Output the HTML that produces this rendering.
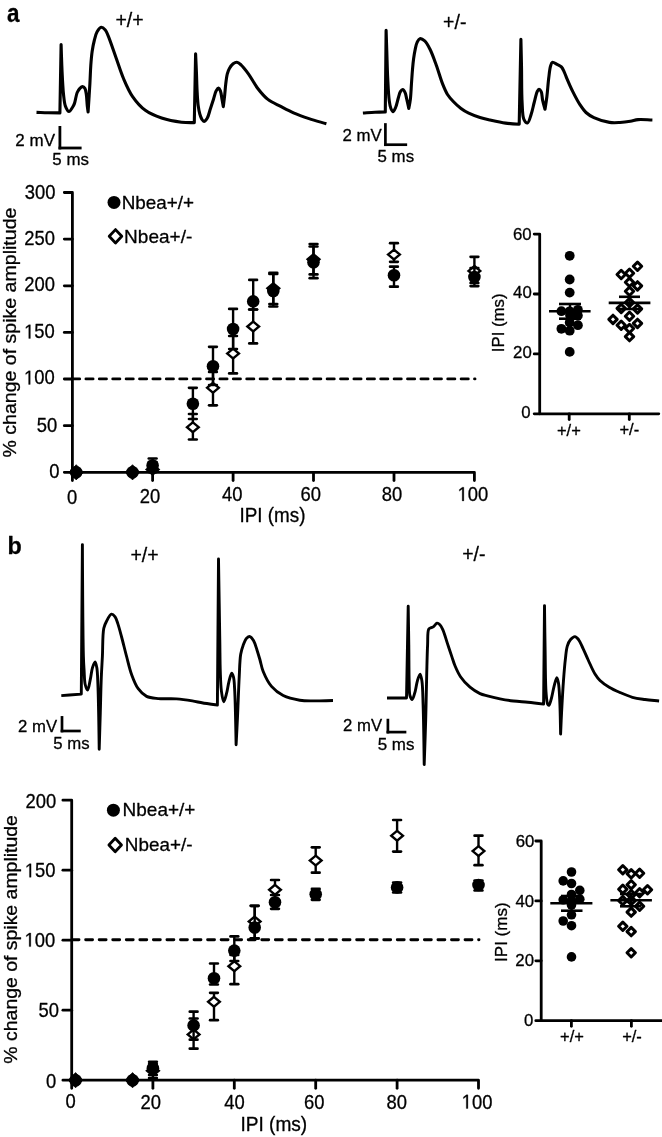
<!DOCTYPE html>
<html><head><meta charset="utf-8"><title>Figure</title>
<style>
html,body{margin:0;padding:0;background:#fff;}
body{width:662px;height:1137px;overflow:hidden;}
svg{display:block;will-change:transform;}
svg text{font-family:"Liberation Sans", sans-serif;fill:#000;stroke:#000;stroke-width:0.3px;stroke-linejoin:round;}
</style></head>
<body>
<svg width="662" height="1137" viewBox="0 0 662 1137" stroke="#000" stroke-linecap="butt" stroke-linejoin="round">
<g>
<text stroke="none" font-size="25.5" font-weight="bold" transform="translate(6.9 22) scale(0.88 1)">a</text>
<text stroke="none" font-size="24.3" font-weight="bold" transform="translate(7.4 553.6) scale(0.96 1)">b</text>
<path d="M36.50 112.40 C40.33 112.53 44.13 112.72 48.00 112.80 C51.93 112.88 59.90 112.90 59.90 112.90 C59.90 112.90 61.10 44.50 61.10 44.50 C61.10 44.50 61.52 58.61 61.80 65.30 C62.06 71.54 62.36 78.01 62.70 83.40 C62.97 87.75 63.14 91.35 63.60 95.20 C64.05 98.92 64.25 103.19 65.40 106.10 C66.28 108.33 67.75 111.44 69.00 111.50 C70.19 111.56 71.75 108.47 72.70 107.00 C73.49 105.78 73.92 104.97 74.50 103.40 C75.46 100.79 76.02 95.19 77.20 92.50 C77.98 90.72 78.89 89.42 79.90 88.40 C80.72 87.57 81.75 86.57 82.60 86.60 C83.41 86.63 84.31 87.49 84.90 88.40 C85.74 89.72 85.93 91.98 86.30 94.30 C86.82 97.54 86.94 102.85 87.30 106.10 C87.55 108.41 88.10 112.00 88.10 112.00 C88.10 112.00 89.42 91.85 89.90 83.40 C90.28 76.68 90.39 70.90 90.80 65.30 C91.15 60.44 91.47 56.05 92.10 51.70 C92.69 47.64 93.48 43.53 94.40 40.00 C95.19 37.00 95.80 34.02 97.10 31.80 C98.19 29.94 99.75 27.48 101.20 27.30 C102.50 27.14 104.20 28.76 105.30 30.00 C106.52 31.38 106.94 32.93 108.00 35.40 C110.13 40.38 113.63 51.08 116.30 58.50 C118.78 65.41 120.74 72.08 123.50 78.50 C126.19 84.77 128.87 91.22 132.60 96.60 C136.19 101.77 140.41 106.72 145.30 110.30 C150.10 113.82 155.77 116.04 161.60 118.00 C167.79 120.08 175.57 121.49 181.50 122.20 C186.21 122.77 194.30 122.60 194.30 122.60 C194.30 122.60 195.60 53.70 195.60 53.70 C195.60 53.70 196.14 65.45 196.40 71.70 C196.68 78.48 196.84 86.74 197.20 92.90 C197.48 97.68 197.69 101.82 198.20 105.60 C198.62 108.70 199.09 111.55 199.80 114.00 C200.38 116.00 201.04 118.00 201.90 119.30 C202.52 120.24 203.23 121.40 204.00 121.40 C204.95 121.40 206.27 119.69 207.20 118.20 C208.58 115.98 209.35 111.87 210.40 108.70 C211.45 105.54 212.51 102.27 213.50 99.20 C214.43 96.31 215.09 92.75 216.20 90.80 C216.91 89.55 217.89 88.05 218.60 88.10 C219.28 88.15 219.90 89.59 220.40 90.80 C221.21 92.77 221.50 96.49 222.00 99.20 C222.47 101.74 223.30 106.60 223.30 106.60 C223.30 106.60 224.29 98.78 224.70 95.00 C225.09 91.39 225.27 87.93 225.70 84.40 C226.13 80.86 226.52 76.69 227.30 73.80 C227.87 71.69 228.45 70.15 229.40 68.50 C230.37 66.81 231.72 64.86 233.10 63.80 C234.23 62.93 235.55 62.11 236.80 62.20 C238.18 62.30 239.52 63.50 241.00 64.80 C243.27 66.79 245.90 70.36 248.40 73.80 C251.42 77.96 254.24 83.83 257.60 88.20 C260.77 92.32 264.00 96.35 267.90 99.40 C271.72 102.39 276.41 104.16 280.70 106.40 C284.95 108.62 288.97 110.83 293.50 112.80 C298.37 114.92 303.65 116.80 309.00 118.60 C314.60 120.48 320.60 122.07 326.40 123.80" fill="none" stroke-width="3.1"/>
<path d="M362.90 113.00 C366.93 112.73 371.13 112.38 375.00 112.20 C378.57 112.03 385.30 111.90 385.30 111.90 C385.30 111.90 386.10 30.40 386.10 30.40 C386.10 30.40 386.55 43.99 386.80 51.40 C387.08 59.72 387.26 69.36 387.70 77.90 C388.11 85.89 388.51 95.54 389.30 101.10 C389.75 104.27 390.10 106.60 390.90 108.50 C391.47 109.85 392.27 111.71 393.00 111.70 C393.83 111.69 394.83 109.25 395.60 107.50 C396.69 105.03 397.43 100.85 398.30 98.00 C399.02 95.65 399.45 93.08 400.40 91.60 C401.05 90.60 401.96 89.43 402.70 89.50 C403.54 89.58 404.47 91.38 405.10 92.70 C405.91 94.39 406.15 96.68 406.70 99.00 C407.37 101.84 408.80 108.50 408.80 108.50 C408.80 108.50 409.98 102.58 410.40 99.00 C410.94 94.41 411.14 88.29 411.50 83.20 C411.84 78.44 412.12 73.69 412.50 69.40 C412.83 65.63 413.13 62.23 413.60 58.80 C414.04 55.54 414.53 52.25 415.20 49.30 C415.79 46.66 416.32 43.78 417.30 41.90 C418.02 40.52 418.78 38.96 419.90 38.70 C421.17 38.40 423.23 39.62 424.70 40.90 C426.71 42.66 428.31 45.96 430.00 49.30 C432.22 53.68 434.26 59.64 436.30 65.20 C438.51 71.22 440.57 78.88 442.70 84.20 C444.30 88.21 445.60 91.50 447.50 94.50 C449.20 97.18 451.14 99.24 453.30 101.50 C455.61 103.92 458.33 106.50 461.00 108.50 C463.48 110.36 465.81 111.79 468.70 113.20 C472.04 114.84 476.31 116.34 480.00 117.50 C483.40 118.57 486.29 119.17 490.00 120.00 C494.61 121.03 500.56 122.40 505.60 123.10 C510.27 123.75 519.20 124.20 519.20 124.20 C519.20 124.20 520.90 39.40 520.90 39.40 C520.90 39.40 521.31 56.67 521.50 66.30 C521.72 77.47 521.50 92.71 522.10 102.50 C522.51 109.20 522.27 115.99 523.90 119.40 C524.79 121.27 526.43 123.21 527.50 123.00 C528.93 122.72 530.05 117.70 531.10 114.60 C532.33 110.98 533.16 106.42 534.20 102.50 C535.19 98.77 536.09 93.86 537.20 91.60 C537.77 90.44 538.35 89.23 539.00 89.20 C539.68 89.17 540.64 90.44 541.20 91.60 C542.12 93.48 541.99 97.23 542.60 100.10 C543.24 103.10 545.00 109.20 545.00 109.20 C545.00 109.20 546.33 101.12 546.90 96.50 C547.58 90.99 548.02 83.73 548.70 78.30 C549.25 73.88 549.64 69.16 550.50 66.30 C551.01 64.60 551.29 62.79 552.30 62.40 C553.41 61.97 555.57 63.64 557.10 64.40 C558.60 65.14 560.22 65.70 561.40 66.90 C562.71 68.24 563.51 70.42 564.40 72.30 C565.31 74.22 565.79 75.92 566.80 78.30 C568.32 81.88 570.61 87.21 572.80 91.60 C575.03 96.08 577.65 101.16 580.10 104.90 C582.05 107.88 583.68 110.38 586.00 112.50 C588.29 114.60 590.70 116.11 593.90 117.60 C598.12 119.56 604.76 121.66 609.50 122.40 C613.30 122.99 616.52 122.69 620.00 122.50 C623.46 122.32 627.12 121.83 630.30 121.30 C633.09 120.83 635.09 119.88 638.10 119.60 C642.13 119.22 647.63 119.87 652.40 120.00" fill="none" stroke-width="3.1"/>
<line x1="59.9" y1="127.4" x2="59.9" y2="148.0" stroke-width="2.8" stroke-linecap="square"/>
<line x1="59.9" y1="148.0" x2="80.2" y2="148.0" stroke-width="2.8" stroke-linecap="square"/>
<line x1="385.4" y1="124.5" x2="385.4" y2="144.7" stroke-width="2.7" stroke-linecap="square"/>
<line x1="385.4" y1="144.7" x2="405.8" y2="144.7" stroke-width="2.7" stroke-linecap="square"/>
<text id="a_2mv_l" x="54.99" y="145.90" font-size="16.50" text-anchor="end" font-weight="normal" textLength="39.6" lengthAdjust="spacingAndGlyphs">2 mV</text>
<text id="a_5ms_l" x="70.65" y="165.40" font-size="16.50" text-anchor="middle" font-weight="normal" textLength="36.6" lengthAdjust="spacingAndGlyphs">5 ms</text>
<text id="a_2mv_r" x="381.86" y="140.70" font-size="16.50" text-anchor="end" font-weight="normal" textLength="39.3" lengthAdjust="spacingAndGlyphs">2 mV</text>
<text id="a_5ms_r" x="395.83" y="161.80" font-size="16.50" text-anchor="middle" font-weight="normal" textLength="36.5" lengthAdjust="spacingAndGlyphs">5 ms</text>
<text id="a_pp" x="129.59" y="27.30" font-size="19.50" text-anchor="middle" font-weight="normal">+/+</text>
<text id="a_pm" x="454.74" y="28.70" font-size="19.50" text-anchor="middle" font-weight="normal">+/-</text>
<path d="M64.3 192.49 L72.4 192.49 L72.4 480.6" fill="none" stroke-width="2.8" stroke-linecap="round"/>
<path d="M64.3 472.3 L474.40 472.3 L474.40 480.6" fill="none" stroke-width="2.8" stroke-linecap="round"/>
<text id="a_y0" x="0" y="0" font-size="19.80" text-anchor="end" font-weight="normal" transform="translate(59.50 477.90) scale(0.930 1)">0</text>
<line x1="64.3" y1="425.7" x2="72.4" y2="425.7" stroke-width="2.8" stroke-linecap="round"/>
<text id="a_y50" x="0" y="0" font-size="19.80" text-anchor="end" font-weight="normal" transform="translate(57.27 432.26) scale(0.930 1)">50</text>
<line x1="64.3" y1="379.0" x2="72.4" y2="379.0" stroke-width="2.8" stroke-linecap="round"/>
<g id="a_y100" transform="translate(54.69 384.38) scale(0.930 1)"><text x="0" y="0" font-size="19.80" text-anchor="end" font-weight="normal"> 00</text><path stroke="#000" stroke-width="31.0" fill="#000" transform="translate(-33.035 0) scale(0.00967 0.00967)" d="M515 0L515 -1237L197 -1010L197 -1180L530 -1409L696 -1409L696 0Z"/></g>
<line x1="64.3" y1="332.4" x2="72.4" y2="332.4" stroke-width="2.8" stroke-linecap="round"/>
<g id="a_y150" transform="translate(54.84 338.39) scale(0.930 1)"><text x="0" y="0" font-size="19.80" text-anchor="end" font-weight="normal"> 50</text><path stroke="#000" stroke-width="31.0" fill="#000" transform="translate(-33.035 0) scale(0.00967 0.00967)" d="M515 0L515 -1237L197 -1010L197 -1180L530 -1409L696 -1409L696 0Z"/></g>
<line x1="64.3" y1="285.8" x2="72.4" y2="285.8" stroke-width="2.8" stroke-linecap="round"/>
<text id="a_y200" x="0" y="0" font-size="19.80" text-anchor="end" font-weight="normal" transform="translate(55.06 291.36) scale(0.930 1)">200</text>
<line x1="64.3" y1="239.1" x2="72.4" y2="239.1" stroke-width="2.8" stroke-linecap="round"/>
<text id="a_y250" x="0" y="0" font-size="19.80" text-anchor="end" font-weight="normal" transform="translate(55.03 245.13) scale(0.930 1)">250</text>
<text id="a_y300" x="0" y="0" font-size="19.80" text-anchor="end" font-weight="normal" transform="translate(55.46 198.89) scale(0.930 1)">300</text>
<line x1="152.6" y1="472.3" x2="152.6" y2="480.6" stroke-width="2.8" stroke-linecap="round"/>
<line x1="233.1" y1="472.3" x2="233.1" y2="480.6" stroke-width="2.8" stroke-linecap="round"/>
<line x1="313.5" y1="472.3" x2="313.5" y2="480.6" stroke-width="2.8" stroke-linecap="round"/>
<line x1="394.0" y1="472.3" x2="394.0" y2="480.6" stroke-width="2.8" stroke-linecap="round"/>
<text id="a_x0" x="0" y="0" font-size="19.80" text-anchor="middle" font-weight="normal" transform="translate(72.04 503.50) scale(0.930 1)">0</text>
<text id="a_x20" x="0" y="0" font-size="19.80" text-anchor="middle" font-weight="normal" transform="translate(150.02 502.70) scale(0.930 1)">20</text>
<text id="a_x40" x="0" y="0" font-size="19.80" text-anchor="middle" font-weight="normal" transform="translate(232.30 501.30) scale(0.930 1)">40</text>
<text id="a_x60" x="0" y="0" font-size="19.80" text-anchor="middle" font-weight="normal" transform="translate(310.73 501.10) scale(0.930 1)">60</text>
<text id="a_x80" x="0" y="0" font-size="19.80" text-anchor="middle" font-weight="normal" transform="translate(392.03 501.10) scale(0.930 1)">80</text>
<g id="a_x100" transform="translate(472.94 500.93) scale(0.930 1)"><text x="0" y="0" font-size="19.80" text-anchor="middle" font-weight="normal"> 00</text><path stroke="#000" stroke-width="31.0" fill="#000" transform="translate(-16.518 0) scale(0.00967 0.00967)" d="M515 0L515 -1237L197 -1010L197 -1180L530 -1409L696 -1409L696 0Z"/></g>
<text id="a_ipi" x="272.52" y="521.60" font-size="19.50" text-anchor="middle" font-weight="normal" textLength="65.9" lengthAdjust="spacingAndGlyphs">IPI (ms)</text>
<text x="15.60" y="332.60" font-size="18.20" text-anchor="middle" font-weight="normal" textLength="250.0" lengthAdjust="spacingAndGlyphs" transform="rotate(-90 15.60 332.60)">% change of spike amplitude</text>
<line x1="72.55" y1="378.9" x2="475.0" y2="378.9" stroke-width="2.9" stroke-linecap="round" stroke-dasharray="7.1 6.3"/>
<circle cx="114.0" cy="202.4" r="6.5" fill="#000" stroke="none"/>
<text id="a_leg1" x="121.69" y="208.50" font-size="19.00" text-anchor="start" font-weight="normal" textLength="72.4" lengthAdjust="spacingAndGlyphs">Nbea+/+</text>
<path d="M115.50 229.60L121.80 236.30L115.50 243.00L109.20 236.30Z" fill="#fff" stroke-width="2.80" stroke-linejoin="round"/>
<text id="a_leg2" x="124.07" y="242.80" font-size="19.00" text-anchor="start" font-weight="normal" textLength="68.2" lengthAdjust="spacingAndGlyphs">Nbea+/-</text>
<line x1="192.9" y1="414.0" x2="192.9" y2="439.5" stroke-width="2.4"/>
<line x1="189.0" y1="414.0" x2="196.7" y2="414.0" stroke-width="2.7" stroke-linecap="round"/>
<line x1="189.0" y1="439.5" x2="196.7" y2="439.5" stroke-width="2.7" stroke-linecap="round"/>
<line x1="213.0" y1="372.0" x2="213.0" y2="405.3" stroke-width="2.4"/>
<line x1="209.1" y1="372.0" x2="216.8" y2="372.0" stroke-width="2.7" stroke-linecap="round"/>
<line x1="209.1" y1="405.3" x2="216.8" y2="405.3" stroke-width="2.7" stroke-linecap="round"/>
<line x1="233.1" y1="336.0" x2="233.1" y2="373.4" stroke-width="2.4"/>
<line x1="229.2" y1="336.0" x2="236.9" y2="336.0" stroke-width="2.7" stroke-linecap="round"/>
<line x1="229.2" y1="373.4" x2="236.9" y2="373.4" stroke-width="2.7" stroke-linecap="round"/>
<line x1="253.2" y1="309.5" x2="253.2" y2="343.4" stroke-width="2.4"/>
<line x1="249.3" y1="309.5" x2="257.0" y2="309.5" stroke-width="2.7" stroke-linecap="round"/>
<line x1="249.3" y1="343.4" x2="257.0" y2="343.4" stroke-width="2.7" stroke-linecap="round"/>
<line x1="273.3" y1="274.0" x2="273.3" y2="306.5" stroke-width="2.4"/>
<line x1="269.4" y1="274.0" x2="277.2" y2="274.0" stroke-width="2.7" stroke-linecap="round"/>
<line x1="269.4" y1="306.5" x2="277.2" y2="306.5" stroke-width="2.7" stroke-linecap="round"/>
<line x1="313.5" y1="246.5" x2="313.5" y2="274.4" stroke-width="2.4"/>
<line x1="309.7" y1="246.5" x2="317.4" y2="246.5" stroke-width="2.7" stroke-linecap="round"/>
<line x1="309.7" y1="274.4" x2="317.4" y2="274.4" stroke-width="2.7" stroke-linecap="round"/>
<line x1="394.0" y1="243.2" x2="394.0" y2="261.8" stroke-width="2.4"/>
<line x1="390.1" y1="243.2" x2="397.8" y2="243.2" stroke-width="2.7" stroke-linecap="round"/>
<line x1="390.1" y1="261.8" x2="397.8" y2="261.8" stroke-width="2.7" stroke-linecap="round"/>
<line x1="474.4" y1="256.8" x2="474.4" y2="283.0" stroke-width="2.4"/>
<line x1="470.6" y1="256.8" x2="478.3" y2="256.8" stroke-width="2.7" stroke-linecap="round"/>
<line x1="470.6" y1="283.0" x2="478.3" y2="283.0" stroke-width="2.7" stroke-linecap="round"/>
<line x1="152.6" y1="462.0" x2="152.6" y2="472.0" stroke-width="2.4"/>
<line x1="148.8" y1="462.0" x2="156.5" y2="462.0" stroke-width="2.7" stroke-linecap="round"/>
<line x1="148.8" y1="472.0" x2="156.5" y2="472.0" stroke-width="2.7" stroke-linecap="round"/>
<path d="M76.22 467.40L82.07 472.30L76.22 477.20L70.37 472.30Z" fill="#fff" stroke-width="2.40" stroke-linejoin="miter"/>
<path d="M132.53 467.40L138.38 472.30L132.53 477.20L126.68 472.30Z" fill="#fff" stroke-width="2.40" stroke-linejoin="miter"/>
<path d="M152.64 464.60L158.49 469.50L152.64 474.40L146.79 469.50Z" fill="#fff" stroke-width="2.40" stroke-linejoin="miter"/>
<path d="M192.86 422.30L198.71 427.20L192.86 432.10L187.01 427.20Z" fill="#fff" stroke-width="2.40" stroke-linejoin="miter"/>
<path d="M212.97 382.90L218.82 387.80L212.97 392.70L207.12 387.80Z" fill="#fff" stroke-width="2.40" stroke-linejoin="miter"/>
<path d="M233.08 348.70L238.93 353.60L233.08 358.50L227.23 353.60Z" fill="#fff" stroke-width="2.40" stroke-linejoin="miter"/>
<path d="M253.19 321.60L259.04 326.50L253.19 331.40L247.34 326.50Z" fill="#fff" stroke-width="2.40" stroke-linejoin="miter"/>
<path d="M273.30 283.40L279.15 288.30L273.30 293.20L267.45 288.30Z" fill="#fff" stroke-width="2.40" stroke-linejoin="miter"/>
<path d="M313.52 254.30L319.37 259.20L313.52 264.10L307.67 259.20Z" fill="#fff" stroke-width="2.40" stroke-linejoin="miter"/>
<path d="M393.96 249.70L399.81 254.60L393.96 259.50L388.11 254.60Z" fill="#fff" stroke-width="2.40" stroke-linejoin="miter"/>
<path d="M474.40 266.00L480.25 270.90L474.40 275.80L468.55 270.90Z" fill="#fff" stroke-width="2.40" stroke-linejoin="miter"/>
<line x1="192.9" y1="387.8" x2="192.9" y2="419.0" stroke-width="2.4"/>
<line x1="189.0" y1="387.8" x2="196.7" y2="387.8" stroke-width="2.7" stroke-linecap="round"/>
<line x1="189.0" y1="419.0" x2="196.7" y2="419.0" stroke-width="2.7" stroke-linecap="round"/>
<line x1="213.0" y1="346.8" x2="213.0" y2="385.0" stroke-width="2.4"/>
<line x1="209.1" y1="346.8" x2="216.8" y2="346.8" stroke-width="2.7" stroke-linecap="round"/>
<line x1="209.1" y1="385.0" x2="216.8" y2="385.0" stroke-width="2.7" stroke-linecap="round"/>
<line x1="233.1" y1="308.9" x2="233.1" y2="349.0" stroke-width="2.4"/>
<line x1="229.2" y1="308.9" x2="236.9" y2="308.9" stroke-width="2.7" stroke-linecap="round"/>
<line x1="229.2" y1="349.0" x2="236.9" y2="349.0" stroke-width="2.7" stroke-linecap="round"/>
<line x1="253.2" y1="279.9" x2="253.2" y2="309.5" stroke-width="2.4"/>
<line x1="249.3" y1="279.9" x2="257.0" y2="279.9" stroke-width="2.7" stroke-linecap="round"/>
<line x1="249.3" y1="309.5" x2="257.0" y2="309.5" stroke-width="2.7" stroke-linecap="round"/>
<line x1="273.3" y1="272.8" x2="273.3" y2="304.0" stroke-width="2.4"/>
<line x1="269.4" y1="272.8" x2="277.2" y2="272.8" stroke-width="2.7" stroke-linecap="round"/>
<line x1="269.4" y1="304.0" x2="277.2" y2="304.0" stroke-width="2.7" stroke-linecap="round"/>
<line x1="313.5" y1="244.0" x2="313.5" y2="278.2" stroke-width="2.4"/>
<line x1="309.7" y1="244.0" x2="317.4" y2="244.0" stroke-width="2.7" stroke-linecap="round"/>
<line x1="309.7" y1="278.2" x2="317.4" y2="278.2" stroke-width="2.7" stroke-linecap="round"/>
<line x1="394.0" y1="266.7" x2="394.0" y2="286.7" stroke-width="2.4"/>
<line x1="390.1" y1="266.7" x2="397.8" y2="266.7" stroke-width="2.7" stroke-linecap="round"/>
<line x1="390.1" y1="286.7" x2="397.8" y2="286.7" stroke-width="2.7" stroke-linecap="round"/>
<line x1="474.4" y1="268.0" x2="474.4" y2="286.1" stroke-width="2.4"/>
<line x1="470.6" y1="268.0" x2="478.3" y2="268.0" stroke-width="2.7" stroke-linecap="round"/>
<line x1="470.6" y1="286.1" x2="478.3" y2="286.1" stroke-width="2.7" stroke-linecap="round"/>
<line x1="152.6" y1="458.5" x2="152.6" y2="472.0" stroke-width="2.4"/>
<line x1="148.8" y1="458.5" x2="156.5" y2="458.5" stroke-width="2.7" stroke-linecap="round"/>
<line x1="148.8" y1="472.0" x2="156.5" y2="472.0" stroke-width="2.7" stroke-linecap="round"/>
<path d="M76.22 464.70L83.32 472.30L76.22 479.90L69.12 472.30Z" fill="#000" stroke-width="0.80" stroke-linejoin="miter"/>
<path d="M132.53 464.70L139.63 472.30L132.53 479.90L125.43 472.30Z" fill="#000" stroke-width="0.80" stroke-linejoin="miter"/>
<circle cx="76.2" cy="472.3" r="6.3" fill="#000" stroke="none"/>
<circle cx="132.5" cy="472.3" r="6.3" fill="#000" stroke="none"/>
<circle cx="152.6" cy="465.5" r="6.3" fill="#000" stroke="none"/>
<circle cx="192.9" cy="403.7" r="6.3" fill="#000" stroke="none"/>
<circle cx="213.0" cy="366.2" r="6.3" fill="#000" stroke="none"/>
<circle cx="233.1" cy="329.0" r="6.3" fill="#000" stroke="none"/>
<circle cx="253.2" cy="301.4" r="6.3" fill="#000" stroke="none"/>
<circle cx="273.3" cy="291.0" r="6.3" fill="#000" stroke="none"/>
<circle cx="313.5" cy="262.2" r="6.3" fill="#000" stroke="none"/>
<circle cx="394.0" cy="275.2" r="6.3" fill="#000" stroke="none"/>
<circle cx="474.4" cy="277.0" r="6.3" fill="#000" stroke="none"/>
<path d="M534.2 234.10 L539.7 234.10 L539.7 413.8" fill="none" stroke-width="2.8" stroke-linecap="round"/>
<line x1="534.2" y1="413.8" x2="658.8" y2="413.8" stroke-width="2.8" stroke-linecap="round"/>
<line x1="534.2" y1="353.9" x2="539.7" y2="353.9" stroke-width="2.8" stroke-linecap="round"/>
<line x1="534.2" y1="294.0" x2="539.7" y2="294.0" stroke-width="2.8" stroke-linecap="round"/>
<text id="ia_y0" x="530.48" y="418.20" font-size="16.80" text-anchor="end" font-weight="normal">0</text>
<text id="ia_y20" x="531.72" y="357.90" font-size="16.80" text-anchor="end" font-weight="normal">20</text>
<text id="ia_y40" x="531.74" y="298.40" font-size="16.80" text-anchor="end" font-weight="normal">40</text>
<text id="ia_y60" x="531.60" y="239.50" font-size="16.80" text-anchor="end" font-weight="normal">60</text>
<line x1="569.2" y1="413.8" x2="569.2" y2="419.6" stroke-width="2.8" stroke-linecap="round"/>
<line x1="629.3" y1="413.8" x2="629.3" y2="419.6" stroke-width="2.8" stroke-linecap="round"/>
<text id="ia_pp" x="568.84" y="435.80" font-size="16.50" text-anchor="middle" font-weight="normal">+/+</text>
<text id="ia_pm" x="629.31" y="435.00" font-size="16.50" text-anchor="middle" font-weight="normal">+/-</text>
<text id="ia_ipi" x="504.20" y="322.78" font-size="16.80" text-anchor="middle" font-weight="normal" textLength="58.8" lengthAdjust="spacingAndGlyphs" transform="rotate(-90 504.20 322.78)">IPI (ms)</text>
<circle cx="569.7" cy="255.8" r="4.9" fill="#000" stroke="none"/>
<circle cx="569.7" cy="279.5" r="4.9" fill="#000" stroke="none"/>
<circle cx="569.7" cy="292.6" r="4.9" fill="#000" stroke="none"/>
<circle cx="561.4" cy="311.2" r="4.9" fill="#000" stroke="none"/>
<circle cx="569.7" cy="311.3" r="4.9" fill="#000" stroke="none"/>
<circle cx="577.9" cy="309.8" r="4.9" fill="#000" stroke="none"/>
<circle cx="577.9" cy="315.6" r="4.9" fill="#000" stroke="none"/>
<circle cx="569.7" cy="322.5" r="4.9" fill="#000" stroke="none"/>
<circle cx="577.9" cy="325.2" r="4.9" fill="#000" stroke="none"/>
<circle cx="561.4" cy="328.8" r="4.9" fill="#000" stroke="none"/>
<circle cx="569.7" cy="330.7" r="4.9" fill="#000" stroke="none"/>
<circle cx="569.7" cy="351.9" r="4.9" fill="#000" stroke="none"/>
<circle cx="570.0" cy="315.0" r="4.9" fill="#000" stroke="none"/>
<line x1="549.0" y1="311.2" x2="590.6" y2="311.2" stroke-width="2.6"/>
<line x1="559.0" y1="304.0" x2="581.0" y2="304.0" stroke-width="2.6"/>
<line x1="570.0" y1="304.0" x2="570.0" y2="318.7" stroke-width="2.4"/>
<line x1="559.0" y1="318.7" x2="581.0" y2="318.7" stroke-width="2.6"/>
<path d="M637.50 262.10L641.70 266.30L637.50 270.50L633.30 266.30Z" fill="#fff" stroke-width="3.00" stroke-linejoin="round"/>
<path d="M621.20 270.30L625.40 274.50L621.20 278.70L617.00 274.50Z" fill="#fff" stroke-width="3.00" stroke-linejoin="round"/>
<path d="M629.50 269.00L633.70 273.20L629.50 277.40L625.30 273.20Z" fill="#fff" stroke-width="3.00" stroke-linejoin="round"/>
<path d="M629.50 278.10L633.70 282.30L629.50 286.50L625.30 282.30Z" fill="#fff" stroke-width="3.00" stroke-linejoin="round"/>
<path d="M637.50 281.70L641.70 285.90L637.50 290.10L633.30 285.90Z" fill="#fff" stroke-width="3.00" stroke-linejoin="round"/>
<path d="M629.50 287.10L633.70 291.30L629.50 295.50L625.30 291.30Z" fill="#fff" stroke-width="3.00" stroke-linejoin="round"/>
<path d="M621.20 304.20L625.40 308.40L621.20 312.60L617.00 308.40Z" fill="#fff" stroke-width="3.00" stroke-linejoin="round"/>
<path d="M637.50 304.70L641.70 308.90L637.50 313.10L633.30 308.90Z" fill="#fff" stroke-width="3.00" stroke-linejoin="round"/>
<path d="M629.50 298.30L633.70 302.50L629.50 306.70L625.30 302.50Z" fill="#fff" stroke-width="3.00" stroke-linejoin="round"/>
<path d="M629.50 312.00L633.70 316.20L629.50 320.40L625.30 316.20Z" fill="#fff" stroke-width="3.00" stroke-linejoin="round"/>
<path d="M613.00 315.20L617.20 319.40L613.00 323.60L608.80 319.40Z" fill="#fff" stroke-width="3.00" stroke-linejoin="round"/>
<path d="M621.20 321.00L625.40 325.20L621.20 329.40L617.00 325.20Z" fill="#fff" stroke-width="3.00" stroke-linejoin="round"/>
<path d="M637.50 319.20L641.70 323.40L637.50 327.60L633.30 323.40Z" fill="#fff" stroke-width="3.00" stroke-linejoin="round"/>
<path d="M629.50 324.30L633.70 328.50L629.50 332.70L625.30 328.50Z" fill="#fff" stroke-width="3.00" stroke-linejoin="round"/>
<path d="M629.50 332.40L633.70 336.60L629.50 340.80L625.30 336.60Z" fill="#fff" stroke-width="3.00" stroke-linejoin="round"/>
<line x1="608.7" y1="302.9" x2="650.4" y2="302.9" stroke-width="2.6"/>
<line x1="619.0" y1="296.8" x2="640.0" y2="296.8" stroke-width="2.6"/>
<line x1="629.5" y1="296.8" x2="629.5" y2="309.0" stroke-width="2.4"/>
<line x1="619.0" y1="309.0" x2="640.0" y2="309.0" stroke-width="2.6"/>
<path d="M61.30 695.60 C67.97 695.10 81.30 694.10 81.30 694.10 C81.30 694.10 82.40 544.60 82.40 544.60 C82.40 544.60 82.83 636.78 83.40 656.30 C83.60 663.24 83.80 665.70 84.10 670.40 C84.40 675.10 84.32 680.92 85.20 684.50 C85.78 686.85 86.85 690.16 87.60 690.10 C88.63 690.02 89.58 682.65 90.40 678.90 C91.22 675.15 91.52 670.66 92.50 667.60 C93.22 665.36 94.38 661.95 95.10 662.00 C95.80 662.05 96.36 665.20 96.80 667.60 C97.54 671.69 97.58 677.04 97.90 684.50 C98.52 699.10 99.20 749.30 99.20 749.30 C99.20 749.30 99.95 724.78 100.30 712.70 C100.65 700.85 100.89 687.75 101.30 677.50 C101.62 669.54 102.02 663.86 102.40 656.30 C102.84 647.59 102.46 634.40 103.80 628.20 C104.50 624.97 105.37 623.39 106.60 621.10 C107.90 618.68 109.86 614.35 111.50 614.10 C112.70 613.92 114.11 615.58 115.10 616.90 C116.38 618.60 116.97 621.18 117.90 623.90 C119.15 627.56 120.30 632.19 121.60 637.00 C123.18 642.85 124.90 650.14 126.60 656.50 C128.24 662.63 129.55 668.93 131.60 674.50 C133.48 679.60 135.42 684.90 138.20 688.70 C140.57 691.94 143.31 694.75 146.60 696.40 C149.95 698.08 153.87 698.16 158.20 698.60 C163.59 699.15 170.63 698.48 176.50 698.90 C181.97 699.29 187.56 700.14 192.30 700.90 C196.22 701.53 199.16 702.36 203.00 703.00 C207.43 703.74 217.40 705.00 217.40 705.00 C217.40 705.00 218.50 559.00 218.50 559.00 C218.50 559.00 219.47 619.26 219.80 640.00 C220.01 652.93 219.97 662.27 220.30 671.50 C220.56 678.75 220.67 685.38 221.40 690.90 C221.96 695.08 222.77 701.75 223.70 701.80 C224.54 701.85 225.77 696.30 226.60 693.20 C227.54 689.69 227.98 685.31 228.90 681.80 C229.71 678.71 230.81 673.25 231.70 673.20 C232.32 673.17 233.04 675.48 233.50 677.20 C234.24 679.98 234.28 683.35 234.60 688.60 C235.31 700.21 236.10 744.70 236.10 744.70 C236.10 744.70 237.03 727.30 237.50 717.30 C238.07 705.20 238.58 688.70 239.20 677.20 C239.67 668.50 239.71 660.16 240.70 654.30 C241.33 650.54 242.14 647.98 243.20 645.20 C244.15 642.69 245.19 639.72 246.60 638.30 C247.59 637.30 248.93 636.39 250.00 636.60 C251.26 636.85 252.47 638.88 253.50 640.60 C254.89 642.93 255.84 646.55 256.90 649.70 C258.01 653.01 258.98 656.47 260.00 660.00 C261.08 663.72 261.56 667.52 263.20 671.50 C265.15 676.26 268.00 682.32 271.50 686.40 C274.76 690.20 278.71 693.23 283.20 695.50 C288.05 697.95 294.53 699.33 299.80 700.20 C304.43 700.97 308.22 700.82 313.10 700.90 C319.07 701.00 326.37 700.63 333.00 700.50" fill="none" stroke-width="2.9"/>
<path d="M387.00 698.00 C393.50 698.00 406.50 698.00 406.50 698.00 C406.50 698.00 408.20 606.30 408.20 606.30 C408.20 606.30 408.63 632.13 408.80 644.90 C408.96 657.46 408.87 672.95 409.20 682.30 C409.40 687.93 409.07 692.78 410.00 695.80 C410.52 697.50 411.48 699.57 412.20 699.50 C413.23 699.40 414.36 694.23 415.20 691.30 C416.13 688.05 416.47 683.87 417.40 680.80 C418.17 678.28 419.35 674.05 420.10 674.10 C420.84 674.14 421.43 677.85 421.90 680.80 C422.76 686.28 422.77 694.93 423.10 704.70 C423.63 720.16 424.20 764.60 424.20 764.60 C424.20 764.60 425.28 734.67 425.70 719.70 C426.12 704.73 426.35 688.25 426.70 674.80 C426.99 663.82 427.18 653.27 427.60 644.90 C427.90 638.83 427.33 631.59 428.70 629.20 C429.26 628.22 430.10 628.13 430.90 627.70 C431.73 627.25 432.72 627.20 433.60 626.60 C434.73 625.84 435.75 623.40 436.90 623.20 C437.87 623.04 439.01 623.86 439.90 624.70 C441.09 625.82 441.91 627.70 442.90 629.90 C444.42 633.29 445.90 638.90 447.40 643.40 C448.90 647.90 450.53 652.87 451.90 656.90 C453.02 660.18 453.70 662.73 455.00 665.80 C456.48 669.30 458.13 673.25 460.50 676.70 C463.05 680.41 466.59 684.31 470.00 687.20 C473.13 689.85 476.82 692.12 480.00 693.60 C482.57 694.79 484.59 695.14 487.40 695.90 C491.03 696.88 495.71 697.96 500.00 698.80 C504.41 699.67 508.91 700.42 513.50 701.00 C518.24 701.60 523.08 701.80 528.00 702.30 C533.11 702.82 543.60 704.10 543.60 704.10 C543.60 704.10 544.50 605.60 544.50 605.60 C544.50 605.60 544.84 634.16 545.10 648.60 C545.37 663.26 545.29 682.98 546.10 692.90 C546.51 697.96 546.76 702.62 547.70 704.30 C548.05 704.92 548.50 705.41 548.90 705.30 C549.78 705.06 550.72 700.73 551.50 698.00 C552.46 694.65 553.06 690.15 554.00 686.60 C554.84 683.43 556.00 677.70 556.80 677.70 C557.41 677.70 557.97 680.58 558.40 682.80 C559.16 686.70 559.36 692.78 559.70 699.30 C560.19 708.76 560.60 734.10 560.60 734.10 C560.60 734.10 561.18 719.95 561.60 711.90 C562.11 702.29 562.79 689.82 563.50 680.30 C564.08 672.44 564.66 665.02 565.40 658.80 C565.97 654.00 566.23 649.53 567.30 646.10 C568.09 643.56 569.02 641.42 570.40 639.80 C571.63 638.36 573.48 636.54 574.90 636.60 C576.24 636.65 577.53 638.31 578.70 639.80 C580.35 641.90 581.61 645.46 583.10 648.60 C584.77 652.14 586.34 656.02 588.20 660.00 C590.27 664.44 592.72 670.31 595.00 674.00 C596.66 676.68 597.90 678.46 600.00 680.50 C602.47 682.91 605.92 685.22 609.20 687.20 C612.57 689.24 616.24 690.85 620.00 692.50 C623.95 694.23 628.19 696.13 632.40 697.30 C636.53 698.45 640.67 698.89 645.00 699.50 C649.56 700.14 654.40 700.50 659.10 701.00" fill="none" stroke-width="2.9"/>
<line x1="62.0" y1="717.4" x2="62.0" y2="731.0" stroke-width="2.7" stroke-linecap="square"/>
<line x1="62.0" y1="731.0" x2="79.4" y2="731.0" stroke-width="2.7" stroke-linecap="square"/>
<line x1="387.9" y1="720.1" x2="387.9" y2="732.1" stroke-width="2.7" stroke-linecap="square"/>
<line x1="387.9" y1="732.1" x2="405.0" y2="732.1" stroke-width="2.7" stroke-linecap="square"/>
<text id="b_2mv_l" x="57.05" y="731.60" font-size="16.30" text-anchor="end" font-weight="normal" textLength="39.0" lengthAdjust="spacingAndGlyphs">2 mV</text>
<text id="b_5ms_l" x="71.38" y="749.20" font-size="16.30" text-anchor="middle" font-weight="normal" textLength="36.3" lengthAdjust="spacingAndGlyphs">5 ms</text>
<text id="b_2mv_r" x="382.05" y="731.30" font-size="16.30" text-anchor="end" font-weight="normal" textLength="39.0" lengthAdjust="spacingAndGlyphs">2 mV</text>
<text id="b_5ms_r" x="396.06" y="750.20" font-size="16.30" text-anchor="middle" font-weight="normal" textLength="36.8" lengthAdjust="spacingAndGlyphs">5 ms</text>
<text id="b_pp" x="144.54" y="562.20" font-size="19.50" text-anchor="middle" font-weight="normal">+/+</text>
<text id="b_pm" x="473.82" y="560.80" font-size="19.50" text-anchor="middle" font-weight="normal">+/-</text>
<path d="M62.9 800.20 L71.7 800.20 L71.7 1088.3" fill="none" stroke-width="2.8" stroke-linecap="round"/>
<path d="M62.9 1080.2 L478.50 1080.2 L478.50 1088.3" fill="none" stroke-width="2.8" stroke-linecap="round"/>
<text id="b_y0" x="0" y="0" font-size="19.80" text-anchor="end" font-weight="normal" transform="translate(56.24 1087.80) scale(0.930 1)">0</text>
<line x1="62.9" y1="1010.2" x2="71.7" y2="1010.2" stroke-width="2.8" stroke-linecap="round"/>
<text id="b_y50" x="0" y="0" font-size="19.80" text-anchor="end" font-weight="normal" transform="translate(58.97 1017.20) scale(0.930 1)">50</text>
<line x1="62.9" y1="940.2" x2="71.7" y2="940.2" stroke-width="2.8" stroke-linecap="round"/>
<g id="b_y100" transform="translate(55.27 946.61) scale(0.930 1)"><text x="0" y="0" font-size="19.80" text-anchor="end" font-weight="normal"> 00</text><path stroke="#000" stroke-width="31.0" fill="#000" transform="translate(-33.035 0) scale(0.00967 0.00967)" d="M515 0L515 -1237L197 -1010L197 -1180L530 -1409L696 -1409L696 0Z"/></g>
<line x1="62.9" y1="870.2" x2="71.7" y2="870.2" stroke-width="2.8" stroke-linecap="round"/>
<g id="b_y150" transform="translate(55.55 877.29) scale(0.930 1)"><text x="0" y="0" font-size="19.80" text-anchor="end" font-weight="normal"> 50</text><path stroke="#000" stroke-width="31.0" fill="#000" transform="translate(-33.035 0) scale(0.00967 0.00967)" d="M515 0L515 -1237L197 -1010L197 -1180L530 -1409L696 -1409L696 0Z"/></g>
<text id="b_y200" x="0" y="0" font-size="19.80" text-anchor="end" font-weight="normal" transform="translate(56.13 808.00) scale(0.930 1)">200</text>
<line x1="152.9" y1="1080.2" x2="152.9" y2="1088.3" stroke-width="2.8" stroke-linecap="round"/>
<line x1="234.3" y1="1080.2" x2="234.3" y2="1088.3" stroke-width="2.8" stroke-linecap="round"/>
<line x1="315.7" y1="1080.2" x2="315.7" y2="1088.3" stroke-width="2.8" stroke-linecap="round"/>
<line x1="397.1" y1="1080.2" x2="397.1" y2="1088.3" stroke-width="2.8" stroke-linecap="round"/>
<text id="b_x0" x="0" y="0" font-size="19.80" text-anchor="middle" font-weight="normal" transform="translate(70.64 1108.40) scale(0.930 1)">0</text>
<text id="b_x20" x="0" y="0" font-size="19.80" text-anchor="middle" font-weight="normal" transform="translate(150.75 1109.20) scale(0.930 1)">20</text>
<text id="b_x40" x="0" y="0" font-size="19.80" text-anchor="middle" font-weight="normal" transform="translate(234.43 1108.60) scale(0.930 1)">40</text>
<text id="b_x60" x="0" y="0" font-size="19.80" text-anchor="middle" font-weight="normal" transform="translate(314.17 1108.60) scale(0.930 1)">60</text>
<text id="b_x80" x="0" y="0" font-size="19.80" text-anchor="middle" font-weight="normal" transform="translate(396.83 1109.00) scale(0.930 1)">80</text>
<g id="b_x100" transform="translate(477.02 1108.50) scale(0.930 1)"><text x="0" y="0" font-size="19.80" text-anchor="middle" font-weight="normal"> 00</text><path stroke="#000" stroke-width="31.0" fill="#000" transform="translate(-16.518 0) scale(0.00967 0.00967)" d="M515 0L515 -1237L197 -1010L197 -1180L530 -1409L696 -1409L696 0Z"/></g>
<text id="b_ipi" x="273.84" y="1130.80" font-size="19.30" text-anchor="middle" font-weight="normal" textLength="66.8" lengthAdjust="spacingAndGlyphs">IPI (ms)</text>
<text x="16.60" y="939.40" font-size="18.20" text-anchor="middle" font-weight="normal" textLength="248.5" lengthAdjust="spacingAndGlyphs" transform="rotate(-90 16.60 939.40)">% change of spike amplitude</text>
<line x1="72.1" y1="939.7" x2="479.0" y2="939.7" stroke-width="2.9" stroke-linecap="round" stroke-dasharray="6.9 6.65"/>
<circle cx="113.4" cy="810.2" r="6.5" fill="#000" stroke="none"/>
<text id="b_leg1" x="122.60" y="815.80" font-size="19.00" text-anchor="start" font-weight="normal" textLength="72.8" lengthAdjust="spacingAndGlyphs">Nbea+/+</text>
<path d="M115.20 838.30L121.50 845.00L115.20 851.70L108.90 845.00Z" fill="#fff" stroke-width="2.80" stroke-linejoin="round"/>
<text id="b_leg2" x="124.84" y="850.50" font-size="19.00" text-anchor="start" font-weight="normal" textLength="67.6" lengthAdjust="spacingAndGlyphs">Nbea+/-</text>
<line x1="152.9" y1="1064.0" x2="152.9" y2="1078.0" stroke-width="2.4"/>
<line x1="149.1" y1="1064.0" x2="156.8" y2="1064.0" stroke-width="2.7" stroke-linecap="round"/>
<line x1="149.1" y1="1078.0" x2="156.8" y2="1078.0" stroke-width="2.7" stroke-linecap="round"/>
<line x1="193.6" y1="1018.5" x2="193.6" y2="1048.7" stroke-width="2.4"/>
<line x1="189.8" y1="1018.5" x2="197.5" y2="1018.5" stroke-width="2.7" stroke-linecap="round"/>
<line x1="189.8" y1="1048.7" x2="197.5" y2="1048.7" stroke-width="2.7" stroke-linecap="round"/>
<line x1="214.0" y1="992.8" x2="214.0" y2="1020.2" stroke-width="2.4"/>
<line x1="210.1" y1="992.8" x2="217.8" y2="992.8" stroke-width="2.7" stroke-linecap="round"/>
<line x1="210.1" y1="1020.2" x2="217.8" y2="1020.2" stroke-width="2.7" stroke-linecap="round"/>
<line x1="234.3" y1="955.0" x2="234.3" y2="984.2" stroke-width="2.4"/>
<line x1="230.5" y1="955.0" x2="238.2" y2="955.0" stroke-width="2.7" stroke-linecap="round"/>
<line x1="230.5" y1="984.2" x2="238.2" y2="984.2" stroke-width="2.7" stroke-linecap="round"/>
<line x1="254.7" y1="905.8" x2="254.7" y2="938.4" stroke-width="2.4"/>
<line x1="250.8" y1="905.8" x2="258.5" y2="905.8" stroke-width="2.7" stroke-linecap="round"/>
<line x1="250.8" y1="938.4" x2="258.5" y2="938.4" stroke-width="2.7" stroke-linecap="round"/>
<line x1="275.0" y1="880.0" x2="275.0" y2="900.0" stroke-width="2.4"/>
<line x1="271.1" y1="880.0" x2="278.9" y2="880.0" stroke-width="2.7" stroke-linecap="round"/>
<line x1="271.1" y1="900.0" x2="278.9" y2="900.0" stroke-width="2.7" stroke-linecap="round"/>
<line x1="315.7" y1="847.3" x2="315.7" y2="872.7" stroke-width="2.4"/>
<line x1="311.9" y1="847.3" x2="319.6" y2="847.3" stroke-width="2.7" stroke-linecap="round"/>
<line x1="311.9" y1="872.7" x2="319.6" y2="872.7" stroke-width="2.7" stroke-linecap="round"/>
<line x1="397.1" y1="820.0" x2="397.1" y2="851.6" stroke-width="2.4"/>
<line x1="393.2" y1="820.0" x2="401.0" y2="820.0" stroke-width="2.7" stroke-linecap="round"/>
<line x1="393.2" y1="851.6" x2="401.0" y2="851.6" stroke-width="2.7" stroke-linecap="round"/>
<line x1="478.5" y1="835.7" x2="478.5" y2="865.2" stroke-width="2.4"/>
<line x1="474.6" y1="835.7" x2="482.4" y2="835.7" stroke-width="2.7" stroke-linecap="round"/>
<line x1="474.6" y1="865.2" x2="482.4" y2="865.2" stroke-width="2.7" stroke-linecap="round"/>
<path d="M75.57 1075.30L81.42 1080.20L75.57 1085.10L69.72 1080.20Z" fill="#fff" stroke-width="2.40" stroke-linejoin="miter"/>
<path d="M132.55 1075.30L138.40 1080.20L132.55 1085.10L126.70 1080.20Z" fill="#fff" stroke-width="2.40" stroke-linejoin="miter"/>
<path d="M152.90 1065.90L158.75 1070.80L152.90 1075.70L147.05 1070.80Z" fill="#fff" stroke-width="2.40" stroke-linejoin="miter"/>
<path d="M193.60 1029.50L199.45 1034.40L193.60 1039.30L187.75 1034.40Z" fill="#fff" stroke-width="2.40" stroke-linejoin="miter"/>
<path d="M213.95 996.90L219.80 1001.80L213.95 1006.70L208.10 1001.80Z" fill="#fff" stroke-width="2.40" stroke-linejoin="miter"/>
<path d="M234.30 961.30L240.15 966.20L234.30 971.10L228.45 966.20Z" fill="#fff" stroke-width="2.40" stroke-linejoin="miter"/>
<path d="M254.65 916.60L260.50 921.50L254.65 926.40L248.80 921.50Z" fill="#fff" stroke-width="2.40" stroke-linejoin="miter"/>
<path d="M275.00 884.90L280.85 889.80L275.00 894.70L269.15 889.80Z" fill="#fff" stroke-width="2.40" stroke-linejoin="miter"/>
<path d="M315.70 855.70L321.55 860.60L315.70 865.50L309.85 860.60Z" fill="#fff" stroke-width="2.40" stroke-linejoin="miter"/>
<path d="M397.10 830.80L402.95 835.70L397.10 840.60L391.25 835.70Z" fill="#fff" stroke-width="2.40" stroke-linejoin="miter"/>
<path d="M478.50 846.20L484.35 851.10L478.50 856.00L472.65 851.10Z" fill="#fff" stroke-width="2.40" stroke-linejoin="miter"/>
<line x1="152.9" y1="1061.8" x2="152.9" y2="1075.0" stroke-width="2.4"/>
<line x1="149.1" y1="1061.8" x2="156.8" y2="1061.8" stroke-width="2.7" stroke-linecap="round"/>
<line x1="149.1" y1="1075.0" x2="156.8" y2="1075.0" stroke-width="2.7" stroke-linecap="round"/>
<line x1="193.6" y1="1011.7" x2="193.6" y2="1039.7" stroke-width="2.4"/>
<line x1="189.8" y1="1011.7" x2="197.5" y2="1011.7" stroke-width="2.7" stroke-linecap="round"/>
<line x1="189.8" y1="1039.7" x2="197.5" y2="1039.7" stroke-width="2.7" stroke-linecap="round"/>
<line x1="214.0" y1="963.5" x2="214.0" y2="984.5" stroke-width="2.4"/>
<line x1="210.1" y1="963.5" x2="217.8" y2="963.5" stroke-width="2.7" stroke-linecap="round"/>
<line x1="210.1" y1="984.5" x2="217.8" y2="984.5" stroke-width="2.7" stroke-linecap="round"/>
<line x1="234.3" y1="936.4" x2="234.3" y2="961.0" stroke-width="2.4"/>
<line x1="230.5" y1="936.4" x2="238.2" y2="936.4" stroke-width="2.7" stroke-linecap="round"/>
<line x1="230.5" y1="961.0" x2="238.2" y2="961.0" stroke-width="2.7" stroke-linecap="round"/>
<line x1="254.7" y1="905.8" x2="254.7" y2="938.4" stroke-width="2.4"/>
<line x1="250.8" y1="905.8" x2="258.5" y2="905.8" stroke-width="2.7" stroke-linecap="round"/>
<line x1="250.8" y1="938.4" x2="258.5" y2="938.4" stroke-width="2.7" stroke-linecap="round"/>
<line x1="275.0" y1="895.0" x2="275.0" y2="908.8" stroke-width="2.4"/>
<line x1="271.1" y1="895.0" x2="278.9" y2="895.0" stroke-width="2.7" stroke-linecap="round"/>
<line x1="271.1" y1="908.8" x2="278.9" y2="908.8" stroke-width="2.7" stroke-linecap="round"/>
<line x1="315.7" y1="888.9" x2="315.7" y2="899.8" stroke-width="2.4"/>
<line x1="311.9" y1="888.9" x2="319.6" y2="888.9" stroke-width="2.7" stroke-linecap="round"/>
<line x1="311.9" y1="899.8" x2="319.6" y2="899.8" stroke-width="2.7" stroke-linecap="round"/>
<line x1="397.1" y1="882.5" x2="397.1" y2="892.5" stroke-width="2.4"/>
<line x1="393.2" y1="882.5" x2="401.0" y2="882.5" stroke-width="2.7" stroke-linecap="round"/>
<line x1="393.2" y1="892.5" x2="401.0" y2="892.5" stroke-width="2.7" stroke-linecap="round"/>
<line x1="478.5" y1="880.5" x2="478.5" y2="890.5" stroke-width="2.4"/>
<line x1="474.6" y1="880.5" x2="482.4" y2="880.5" stroke-width="2.7" stroke-linecap="round"/>
<line x1="474.6" y1="890.5" x2="482.4" y2="890.5" stroke-width="2.7" stroke-linecap="round"/>
<path d="M75.57 1072.60L82.67 1080.20L75.57 1087.80L68.47 1080.20Z" fill="#000" stroke-width="0.80" stroke-linejoin="miter"/>
<path d="M132.55 1072.60L139.65 1080.20L132.55 1087.80L125.45 1080.20Z" fill="#000" stroke-width="0.80" stroke-linejoin="miter"/>
<circle cx="75.6" cy="1080.2" r="6.3" fill="#000" stroke="none"/>
<circle cx="132.6" cy="1080.2" r="6.3" fill="#000" stroke="none"/>
<circle cx="152.9" cy="1068.3" r="6.3" fill="#000" stroke="none"/>
<circle cx="193.6" cy="1025.4" r="6.3" fill="#000" stroke="none"/>
<circle cx="214.0" cy="978.3" r="6.3" fill="#000" stroke="none"/>
<circle cx="234.3" cy="950.6" r="6.3" fill="#000" stroke="none"/>
<circle cx="254.7" cy="927.5" r="6.3" fill="#000" stroke="none"/>
<circle cx="275.0" cy="902.3" r="6.3" fill="#000" stroke="none"/>
<circle cx="315.7" cy="894.3" r="6.3" fill="#000" stroke="none"/>
<circle cx="397.1" cy="887.4" r="6.3" fill="#000" stroke="none"/>
<circle cx="478.5" cy="885.0" r="6.3" fill="#000" stroke="none"/>
<path d="M535.8 841.00 L541.2 841.00 L541.2 1020.7" fill="none" stroke-width="2.8" stroke-linecap="round"/>
<line x1="535.8" y1="1020.7" x2="663.0" y2="1020.7" stroke-width="2.8" stroke-linecap="round"/>
<line x1="535.8" y1="960.8" x2="541.2" y2="960.8" stroke-width="2.8" stroke-linecap="round"/>
<line x1="535.8" y1="900.9" x2="541.2" y2="900.9" stroke-width="2.8" stroke-linecap="round"/>
<text id="ib_y0" x="533.28" y="1025.90" font-size="16.80" text-anchor="end" font-weight="normal">0</text>
<text id="ib_y20" x="534.00" y="966.20" font-size="16.80" text-anchor="end" font-weight="normal">20</text>
<text id="ib_y40" x="534.20" y="906.90" font-size="16.80" text-anchor="end" font-weight="normal">40</text>
<text id="ib_y60" x="534.44" y="847.20" font-size="16.80" text-anchor="end" font-weight="normal">60</text>
<line x1="571.4" y1="1020.7" x2="571.4" y2="1026.3" stroke-width="2.8" stroke-linecap="round"/>
<line x1="631.4" y1="1020.7" x2="631.4" y2="1026.3" stroke-width="2.8" stroke-linecap="round"/>
<text id="ib_pp" x="571.99" y="1041.80" font-size="16.50" text-anchor="middle" font-weight="normal">+/+</text>
<text id="ib_pm" x="632.01" y="1041.80" font-size="16.50" text-anchor="middle" font-weight="normal">+/-</text>
<text id="ib_ipi" x="506.90" y="932.17" font-size="16.00" text-anchor="middle" font-weight="normal" textLength="59.5" lengthAdjust="spacingAndGlyphs" transform="rotate(-90 506.90 932.17)">IPI (ms)</text>
<circle cx="571.5" cy="872.0" r="4.8" fill="#000" stroke="none"/>
<circle cx="563.2" cy="880.9" r="4.8" fill="#000" stroke="none"/>
<circle cx="571.5" cy="883.5" r="4.8" fill="#000" stroke="none"/>
<circle cx="579.8" cy="890.4" r="4.8" fill="#000" stroke="none"/>
<circle cx="571.5" cy="894.5" r="4.8" fill="#000" stroke="none"/>
<circle cx="563.2" cy="899.8" r="4.8" fill="#000" stroke="none"/>
<circle cx="579.8" cy="899.2" r="4.8" fill="#000" stroke="none"/>
<circle cx="571.5" cy="900.6" r="4.8" fill="#000" stroke="none"/>
<circle cx="571.5" cy="905.0" r="4.8" fill="#000" stroke="none"/>
<circle cx="571.5" cy="914.8" r="4.8" fill="#000" stroke="none"/>
<circle cx="563.2" cy="921.0" r="4.8" fill="#000" stroke="none"/>
<circle cx="571.5" cy="925.7" r="4.8" fill="#000" stroke="none"/>
<circle cx="571.5" cy="956.9" r="4.8" fill="#000" stroke="none"/>
<line x1="550.3" y1="903.3" x2="592.4" y2="903.3" stroke-width="2.6"/>
<line x1="561.0" y1="896.0" x2="582.5" y2="896.0" stroke-width="2.6"/>
<line x1="571.5" y1="896.0" x2="571.5" y2="910.7" stroke-width="2.4"/>
<line x1="561.0" y1="910.7" x2="582.5" y2="910.7" stroke-width="2.6"/>
<path d="M622.80 865.50L627.00 869.70L622.80 873.90L618.60 869.70Z" fill="#fff" stroke-width="3.00" stroke-linejoin="round"/>
<path d="M631.20 869.60L635.40 873.80L631.20 878.00L627.00 873.80Z" fill="#fff" stroke-width="3.00" stroke-linejoin="round"/>
<path d="M639.60 869.10L643.80 873.30L639.60 877.50L635.40 873.30Z" fill="#fff" stroke-width="3.00" stroke-linejoin="round"/>
<path d="M631.20 880.50L635.40 884.70L631.20 888.90L627.00 884.70Z" fill="#fff" stroke-width="3.00" stroke-linejoin="round"/>
<path d="M622.80 885.00L627.00 889.20L622.80 893.40L618.60 889.20Z" fill="#fff" stroke-width="3.00" stroke-linejoin="round"/>
<path d="M647.50 885.50L651.70 889.70L647.50 893.90L643.30 889.70Z" fill="#fff" stroke-width="3.00" stroke-linejoin="round"/>
<path d="M639.60 888.50L643.80 892.70L639.60 896.90L635.40 892.70Z" fill="#fff" stroke-width="3.00" stroke-linejoin="round"/>
<path d="M631.20 890.30L635.40 894.50L631.20 898.70L627.00 894.50Z" fill="#fff" stroke-width="3.00" stroke-linejoin="round"/>
<path d="M622.80 896.40L627.00 900.60L622.80 904.80L618.60 900.60Z" fill="#fff" stroke-width="3.00" stroke-linejoin="round"/>
<path d="M631.20 896.40L635.40 900.60L631.20 904.80L627.00 900.60Z" fill="#fff" stroke-width="3.00" stroke-linejoin="round"/>
<path d="M639.60 902.10L643.80 906.30L639.60 910.50L635.40 906.30Z" fill="#fff" stroke-width="3.00" stroke-linejoin="round"/>
<path d="M631.20 907.90L635.40 912.10L631.20 916.30L627.00 912.10Z" fill="#fff" stroke-width="3.00" stroke-linejoin="round"/>
<path d="M622.80 922.10L627.00 926.30L622.80 930.50L618.60 926.30Z" fill="#fff" stroke-width="3.00" stroke-linejoin="round"/>
<path d="M631.20 927.40L635.40 931.60L631.20 935.80L627.00 931.60Z" fill="#fff" stroke-width="3.00" stroke-linejoin="round"/>
<path d="M631.20 948.60L635.40 952.80L631.20 957.00L627.00 952.80Z" fill="#fff" stroke-width="3.00" stroke-linejoin="round"/>
<line x1="610.4" y1="900.3" x2="651.9" y2="900.3" stroke-width="2.6"/>
<line x1="620.0" y1="894.0" x2="641.3" y2="894.0" stroke-width="2.6"/>
<line x1="631.2" y1="894.0" x2="631.2" y2="906.3" stroke-width="2.4"/>
<line x1="620.0" y1="906.3" x2="641.3" y2="906.3" stroke-width="2.6"/>
</g>
</svg>
</body></html>
